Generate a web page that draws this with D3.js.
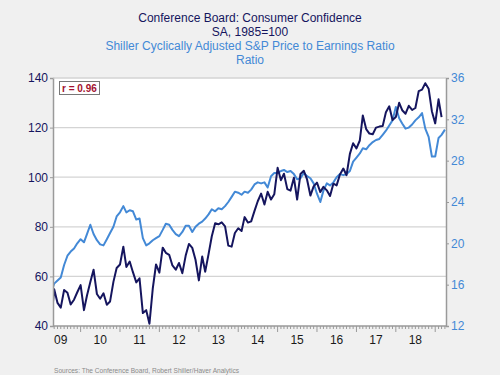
<!DOCTYPE html>
<html>
<head>
<meta charset="utf-8">
<script src="https://cdn.jsdelivr.net/npm/d3@7"></script>
<style>
  html, body { margin: 0; padding: 0; background: #f0f0f0; }
  svg { display: block; }
  text { font-family: "Liberation Sans", Arial, sans-serif; }
</style>
</head>
<body>
<svg id="chart" width="500" height="375"></svg>
<script>
// ---------- data ----------
const startYear = 2009, startMonth = 3; // April 2009 (0-based month)

// Conference Board: Consumer Confidence, SA 1985=100 (monthly, Apr 2009 - Mar 2019)
const confidence = [
  40.8, 54.8, 49.3, 47.4, 54.5, 53.4, 48.7, 50.6, 53.6,
  56.5, 46.4, 52.3, 57.7, 62.7, 52.9, 51.0, 53.2, 48.6, 49.9, 57.8, 63.4,
  64.8, 72.0, 63.8, 66.0, 61.7, 57.6, 59.2, 45.2, 46.4, 40.9, 55.2, 64.8,
  61.5, 71.6, 69.5, 68.7, 64.4, 62.7, 65.4, 61.3, 68.4, 73.1, 71.5, 66.7,
  58.4, 68.0, 61.9, 69.0, 76.2, 81.4, 81.0, 81.8, 80.2, 72.4, 72.0, 77.5,
  79.4, 78.3, 83.9, 81.7, 82.2, 86.4, 90.3, 93.4, 89.0, 94.1, 91.0, 93.1,
  103.8, 98.8, 101.4, 95.2, 94.6, 99.8, 91.0, 101.3, 102.6, 99.1, 92.6, 96.3,
  97.8, 94.0, 96.1, 94.7, 92.4, 97.4, 96.7, 101.1, 103.5, 100.8, 109.4, 113.7,
  111.6, 114.8, 124.9, 119.4, 117.6, 117.3, 120.0, 120.4, 120.6, 126.2, 128.6, 123.1,
  124.3, 130.0, 127.0, 125.6, 128.8, 127.1, 127.9, 134.7, 135.3, 137.9, 135.7, 126.6,
  121.7, 131.4, 124.2
];

// Shiller Cyclically Adjusted S&P Price to Earnings Ratio (monthly, Apr 2009 - Apr 2019)
const cape = [
  15.2, 16.1, 16.4, 16.7, 17.9, 18.8, 19.2, 19.5, 20.0,
  20.4, 20.1, 20.9, 21.8, 20.9, 20.3, 19.9, 19.8, 20.4, 21.0, 21.6, 22.6,
  23.0, 23.6, 23.0, 23.2, 23.1, 22.3, 22.4, 20.5, 19.8, 20.0, 20.3, 20.5,
  20.7, 21.3, 21.9, 21.8, 21.3, 20.9, 20.7, 21.1, 21.7, 21.7, 21.1, 21.6,
  21.9, 22.1, 22.4, 22.8, 23.3, 23.1, 23.4, 23.3, 23.6, 24.0, 24.5, 25.0,
  24.9, 24.7, 25.0, 24.9, 25.2, 25.7, 25.9, 25.8, 25.9, 25.4, 26.5, 26.8,
  26.8, 27.0, 27.1, 26.9, 27.0, 26.7, 26.2, 26.3, 26.8, 26.5, 26.3, 25.8,
  24.8, 24.0, 25.1, 25.8, 25.6, 25.9, 26.4, 26.7, 26.6, 26.7, 27.0, 27.9,
  28.3, 28.7, 29.2, 29.1, 29.5, 29.8, 30.0, 30.1, 30.5, 30.9, 31.4, 31.9,
  33.2, 32.1, 31.6, 31.1, 31.2, 31.5, 31.9, 32.2, 32.6, 31.1, 30.3, 28.4,
  28.4, 30.2, 30.5, 31.0
];

const leftTicks = [40, 60, 80, 100, 120, 140];
const rightTicks = [12, 16, 20, 24, 28, 32, 36];
const yearLabels = ["09", "10", "11", "12", "13", "14", "15", "16", "17", "18"];
const titleLines = ["Conference Board: Consumer Confidence", "SA, 1985=100"];
const subtitleLines = ["Shiller Cyclically Adjusted S&P Price to Earnings Ratio", "Ratio"];
const corrLabel = "r = 0.96";
const sourceText = "Sources:  The Conference Board, Robert Shiller/Haver Analytics";

// ---------- layout ----------
const navy = "#15155e", blue = "#4389d6", axisGray = "#9a9a9a", gridGray = "#d4d4d4";
const plot = { left: 53, right: 446, top: 78, bottom: 326 };

const svg = d3.select("#chart");
const monthDate = i => new Date(startYear, startMonth + i, 1);

const x = d3.scaleTime()
  .domain([new Date(2009, 3, 20), new Date(2019, 3, 11)])
  .range([plot.left, plot.right]);
const yL = d3.scaleLinear().domain([40, 140]).range([plot.bottom, plot.top]);
const yR = d3.scaleLinear().domain([12, 36]).range([plot.bottom, plot.top]);

// plot background
svg.append("rect")
  .attr("x", plot.left).attr("y", plot.top)
  .attr("width", plot.right - plot.left).attr("height", plot.bottom - plot.top)
  .attr("fill", "#ffffff");

// gridlines (left axis)
svg.append("g").selectAll("line").data(leftTicks.slice(1)).join("line")
  .attr("x1", plot.left).attr("x2", plot.right)
  .attr("y1", d => yL(d)).attr("y2", d => yL(d))
  .attr("stroke", gridGray).attr("stroke-width", 1.2);

// clip
svg.append("clipPath").attr("id", "clip").append("rect")
  .attr("x", plot.left).attr("y", plot.top - 2)
  .attr("width", plot.right - plot.left).attr("height", plot.bottom - plot.top + 2);

const lineL = d3.line().x((d, i) => x(monthDate(i))).y(d => yL(d));
const lineR = d3.line().x((d, i) => x(monthDate(i))).y(d => yR(d));

const lines = svg.append("g").attr("clip-path", "url(#clip)");
lines.append("path").datum(cape).attr("d", lineR)
  .attr("fill", "none").attr("stroke", blue).attr("stroke-width", 2).attr("stroke-linejoin", "round");
lines.append("path").datum(confidence).attr("d", lineL)
  .attr("fill", "none").attr("stroke", navy).attr("stroke-width", 2).attr("stroke-linejoin", "round");

// left axis
const gL = svg.append("g").attr("transform", `translate(${plot.left},0)`)
  .call(d3.axisLeft(yL).tickValues(leftTicks).tickSize(3).tickPadding(2));
gL.select(".domain").attr("stroke", axisGray).attr("stroke-width", 1.5);
gL.selectAll(".tick line").attr("stroke", axisGray);
gL.selectAll(".tick text").attr("fill", navy).attr("font-size", 12)
  .attr("font-family", "Liberation Sans, Arial, sans-serif");

// right axis
const gR = svg.append("g").attr("transform", `translate(${plot.right},0)`)
  .call(d3.axisRight(yR).tickValues(rightTicks).tickSize(3).tickPadding(2));
gR.select(".domain").attr("stroke", axisGray).attr("stroke-width", 1.5);
gR.selectAll(".tick line").attr("stroke", axisGray);
gR.selectAll(".tick text").attr("fill", blue).attr("font-size", 12)
  .attr("font-family", "Liberation Sans, Arial, sans-serif");

// top border line
svg.append("line").attr("x1", plot.left).attr("x2", plot.right)
  .attr("y1", plot.top).attr("y2", plot.top)
  .attr("stroke", gridGray).attr("stroke-width", 1.2);

// bottom axis: monthly minor ticks, yearly major ticks
const gB = svg.append("g").attr("transform", `translate(0,${plot.bottom})`);
gB.append("line").attr("x1", plot.left).attr("x2", plot.right)
  .attr("stroke", axisGray).attr("stroke-width", 1.5);
const months = d3.timeMonth.range(x.domain()[0], x.domain()[1]);
gB.selectAll("line.minor").data(months).join("line").attr("class", "minor")
  .attr("x1", d => x(d)).attr("x2", d => x(d))
  .attr("y1", 0).attr("y2", d => d.getMonth() === 0 ? 6 : 3)
  .attr("stroke", axisGray).attr("stroke-width", 1);
gB.selectAll("text").data(yearLabels).join("text")
  .attr("x", d => x(new Date(2000 + (+d), 6, 1)))
  .attr("y", 18)
  .attr("text-anchor", "middle")
  .attr("font-size", 12).attr("fill", "#1a1a1a")
  .text(d => d);

// titles
svg.selectAll("text.title").data(titleLines).join("text").attr("class", "title")
  .attr("x", 250).attr("y", (d, i) => 22 + i * 14)
  .attr("text-anchor", "middle").attr("font-size", 12).attr("fill", navy)
  .text(d => d);
svg.selectAll("text.subtitle").data(subtitleLines).join("text").attr("class", "subtitle")
  .attr("x", 250).attr("y", (d, i) => 50 + i * 14)
  .attr("text-anchor", "middle").attr("font-size", 12).attr("fill", blue)
  .text(d => d);

// correlation box
const box = svg.append("g");
box.append("rect").attr("x", 59.5).attr("y", 81.5).attr("width", 40).attr("height", 13)
  .attr("fill", "#ffffff").attr("stroke", "#777").attr("stroke-width", 1);
box.append("text").attr("x", 62).attr("y", 92)
  .attr("font-size", 10).attr("font-weight", "bold").attr("fill", "#a3122f")
  .text(corrLabel);

// source
svg.append("text").attr("x", 54).attr("y", 373)
  .attr("font-size", 7).attr("fill", "#8a8a8a")
  .attr("textLength", 185).attr("lengthAdjust", "spacingAndGlyphs")
  .text(sourceText);
</script>
</body>
</html>
